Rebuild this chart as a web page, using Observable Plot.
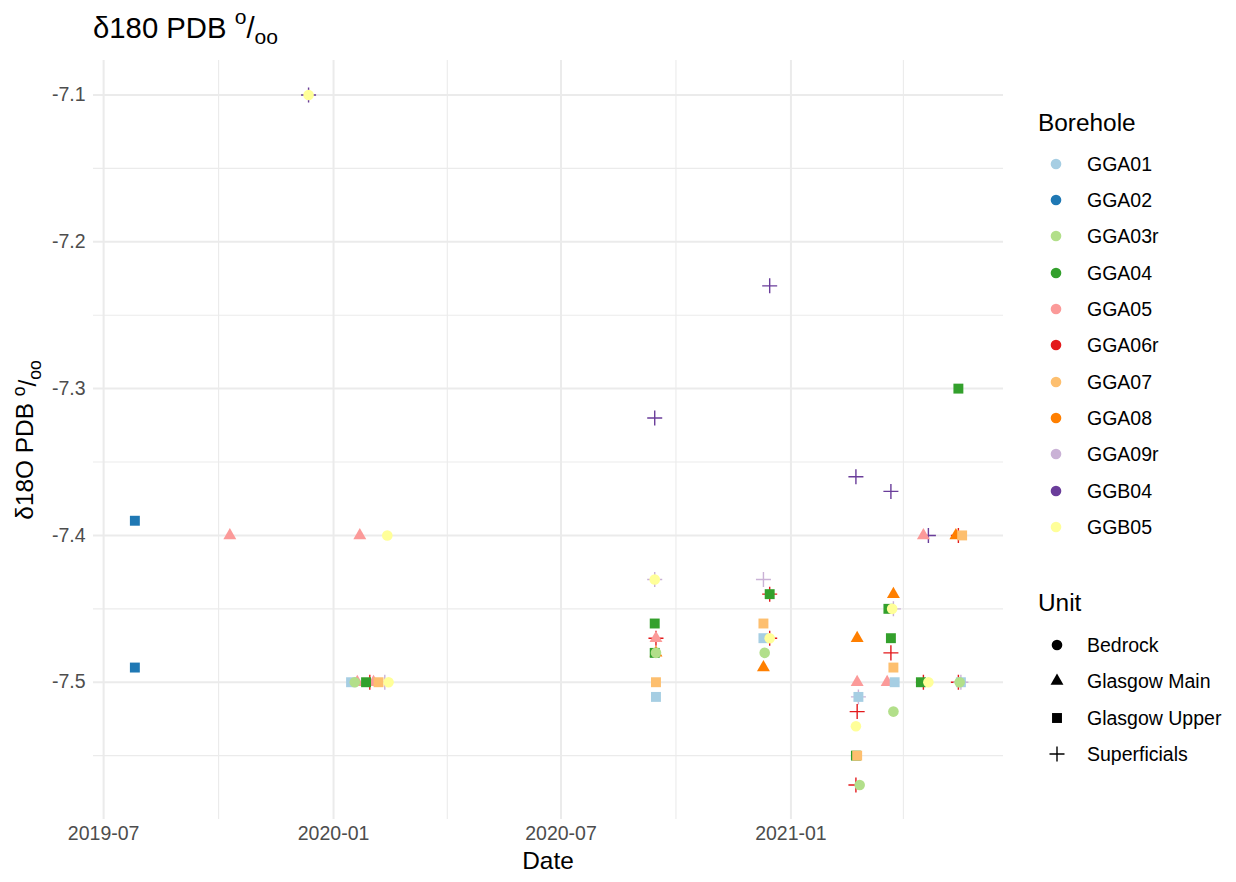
<!DOCTYPE html>
<html>
<head>
<meta charset="utf-8">
<script src="https://cdn.jsdelivr.net/npm/d3@7"></script>
<script src="https://cdn.jsdelivr.net/npm/@observablehq/plot@0.6"></script>
<style>
  html, body { margin: 0; padding: 0; background: #fff; }
  #wrap { position: relative; width: 1236px; height: 882px; font-family: "Liberation Sans", Arial, sans-serif; color: #000; }
  #title { position: absolute; left: 93px; top: 13px; font-size: 29.3px; line-height: 1; white-space: nowrap; }
  .sup { font-size: 0.72em; position: relative; top: -0.66em; }
  .sub { font-size: 0.72em; position: relative; top: 0.3em; }
  #chart { position: absolute; left: 0; top: 60px; }
  .lgtitle { position: absolute; left: 1038px; font-size: 24.4px; line-height: 1; white-space: nowrap; }
  .lglabel { position: absolute; left: 1087px; font-size: 19.5px; line-height: 30px; height: 30px; white-space: nowrap; }
  .lgkey { position: absolute; width: 24px; height: 24px; }
</style>
</head>
<body>
<div id="wrap">
  <div id="title">δ180 PDB <span class="sup">o</span>/<span class="sub">oo</span></div>
  <div id="chart"></div>
</div>
<script>
// ---- categories ----
const boreholes = ["GGA01","GGA02","GGA03r","GGA04","GGA05","GGA06r","GGA07","GGA08","GGA09r","GGB04","GGB05"];
const boreholeColors = ["#A6CEE3","#1F78B4","#B2DF8A","#33A02C","#FB9A99","#E31A1C","#FDBF6F","#FF7F00","#CAB2D6","#6A3D9A","#FFFF99"];
const units = ["Bedrock","Glasgow Main","Glasgow Upper","Superficials"];
const unitSymbols = ["circle","triangle","square","plus"];

// ---- tick labels ----
const xTicks = ["2019-07-01","2020-01-01","2020-07-01","2021-01-01"];
const xMinorTicks = ["2019-10-01","2020-04-01","2020-10-01","2021-04-01"];
const yTicks = [-7.1,-7.2,-7.3,-7.4,-7.5];
const yMinorTicks = [-7.15,-7.25,-7.35,-7.45,-7.55];

// ---- samples (parallel arrays) ----
const sampleDate = [
 "2019-07-26","2019-07-26","2019-10-10","2019-12-12","2019-12-12","2020-01-22","2020-02-13",
 "2020-01-15","2020-01-18","2020-01-20","2020-01-27","2020-01-30","2020-02-02","2020-02-06","2020-02-11","2020-02-14",
 "2020-09-14","2020-09-14","2020-09-14","2020-09-14","2020-09-15","2020-09-15","2020-09-15","2020-09-14","2020-09-15","2020-09-15","2020-09-15",
 "2020-12-15","2020-12-10","2020-12-15","2020-12-15","2020-12-10","2020-12-10","2020-12-15","2020-12-15","2020-12-11","2020-12-10",
 "2021-02-22","2021-02-23","2021-02-23","2021-02-24","2021-02-24","2021-02-23","2021-02-22","2021-02-22","2021-02-23","2021-02-22","2021-02-25",
 "2021-03-22","2021-03-24","2021-03-20","2021-03-24","2021-03-23","2021-03-22","2021-03-22","2021-03-24","2021-03-19","2021-03-25","2021-03-24",
 "2021-04-17","2021-04-21","2021-04-15","2021-04-17","2021-04-21",
 "2021-05-15","2021-05-13","2021-05-15","2021-05-18","2021-05-15","2021-05-16","2021-05-17","2021-05-17"
];
const sampleBorehole = [
 "GGA02","GGA02","GGA05","GGB04","GGB05","GGA05","GGB05",
 "GGA01","GGA03r","GGA05","GGA04","GGA06r","GGA05","GGA07","GGA09r","GGB05",
 "GGB04","GGB05","GGA09r","GGA04","GGA05","GGA06r","GGA08","GGA04","GGA03r","GGA07","GGA01",
 "GGB04","GGA09r","GGA06r","GGA04","GGA07","GGA01","GGA06r","GGB05","GGA03r","GGA08",
 "GGB04","GGA08","GGA05","GGA09r","GGA01","GGA06r","GGB05","GGA04","GGA07","GGA06r","GGA03r",
 "GGB04","GGA08","GGA04","GGA09r","GGB05","GGA04","GGA06r","GGA07","GGA05","GGA01","GGA03r",
 "GGA05","GGB04","GGA04","GGA06r","GGB05",
 "GGA04","GGA08","GGA06r","GGA07","GGA06r","GGA03r","GGA01","GGA09r"
];
const sampleUnit = [
 "Glasgow Upper","Glasgow Upper","Glasgow Main","Superficials","Bedrock","Glasgow Main","Bedrock",
 "Glasgow Upper","Bedrock","Glasgow Main","Glasgow Upper","Superficials","Glasgow Main","Glasgow Upper","Superficials","Bedrock",
 "Superficials","Bedrock","Superficials","Glasgow Upper","Glasgow Main","Superficials","Glasgow Main","Glasgow Upper","Bedrock","Glasgow Upper","Glasgow Upper",
 "Superficials","Superficials","Superficials","Glasgow Upper","Glasgow Upper","Glasgow Upper","Superficials","Bedrock","Bedrock","Glasgow Main",
 "Superficials","Glasgow Main","Glasgow Main","Superficials","Glasgow Upper","Superficials","Bedrock","Glasgow Upper","Glasgow Upper","Superficials","Bedrock",
 "Superficials","Glasgow Main","Glasgow Upper","Superficials","Bedrock","Glasgow Upper","Superficials","Glasgow Upper","Glasgow Main","Glasgow Upper","Bedrock",
 "Glasgow Main","Superficials","Glasgow Upper","Superficials","Bedrock",
 "Glasgow Upper","Glasgow Main","Superficials","Glasgow Upper","Superficials","Bedrock","Glasgow Upper","Superficials"
];
const sampleValue = [
 -7.39,-7.49,-7.40,-7.10,-7.10,-7.40,-7.40,
 -7.50,-7.50,-7.50,-7.50,-7.50,-7.50,-7.50,-7.50,-7.50,
 -7.32,-7.43,-7.43,-7.46,-7.47,-7.47,-7.48,-7.48,-7.48,-7.50,-7.51,
 -7.23,-7.43,-7.44,-7.44,-7.46,-7.47,-7.47,-7.47,-7.48,-7.49,
 -7.36,-7.47,-7.50,-7.51,-7.51,-7.52,-7.53,-7.55,-7.55,-7.57,-7.57,
 -7.37,-7.44,-7.45,-7.45,-7.45,-7.47,-7.48,-7.49,-7.50,-7.50,-7.52,
 -7.40,-7.40,-7.50,-7.50,-7.50,
 -7.30,-7.40,-7.40,-7.40,-7.50,-7.50,-7.50,-7.50
];

const data = sampleDate.map((d, i) => ({
  date: new Date(d + "T00:00:00Z"),
  borehole: sampleBorehole[i],
  unit: sampleUnit[i],
  value: sampleValue[i]
}));

// ggplot-style 5% expansion of the data range
function expand([a, b]) { const p = (b - a) * 0.05; return [a - p, b + p]; }
const xDom = expand(d3.extent(data, d => +d.date)).map(t => new Date(t));
const yDom = expand(d3.extent(data, d => d.value));

const symbolOf = Object.fromEntries(units.map((u, i) => [u, unitSymbols[i]]));
const rOf = {"Bedrock": 5.3, "Glasgow Main": 4.8, "Glasgow Upper": 5.6, "Superficials": 4.9};
const grid = "#EBEBEB";
const drawOrder = ["Superficials", "Glasgow Main", "Glasgow Upper", "Bedrock"];

const dotMarks = drawOrder.map(u => {
  const subset = data.filter(d => d.unit === u);
  if (u === "Superficials") {
    return Plot.dot(subset, {x: "date", y: "value", stroke: "borehole", fill: "none", symbol: symbolOf[u], r: rOf[u], strokeWidth: 1.4});
  }
  return Plot.dot(subset, {x: "date", y: "value", fill: "borehole", stroke: "none", symbol: symbolOf[u], r: rOf[u]});
});

const chart = Plot.plot({
  width: 1010,
  height: 822,
  marginTop: 0,
  marginBottom: 63,
  marginLeft: 93,
  marginRight: 7,
  style: {fontFamily: '"Liberation Sans", Arial, sans-serif', fontSize: "19.5px", color: "#4D4D4D", background: "#fff"},
  x: {type: "utc", domain: xDom},
  y: {domain: yDom},
  color: {domain: boreholes, range: boreholeColors},
  marks: [
    Plot.ruleX(xMinorTicks.map(d => new Date(d + "T00:00:00Z")), {stroke: grid, strokeWidth: 1.1}),
    Plot.ruleY(yMinorTicks, {stroke: grid, strokeWidth: 1.1}),
    Plot.ruleX(xTicks.map(d => new Date(d + "T00:00:00Z")), {stroke: grid, strokeWidth: 2}),
    Plot.ruleY(yTicks, {stroke: grid, strokeWidth: 2}),
    Plot.axisX(xTicks.map(d => new Date(d + "T00:00:00Z")), {tickSize: 0, tickPadding: 7, tickFormat: d3.utcFormat("%Y-%m"), label: null, fill: "#4D4D4D"}),
    Plot.axisY(yTicks, {tickSize: 0, tickPadding: 8, tickFormat: d => d.toFixed(1), label: null, fill: "#4D4D4D"}),
    ...dotMarks
  ]
});
document.getElementById("chart").appendChild(chart);

// axis titles drawn into the svg
const top0 = 60;
const svg = d3.select(chart);
svg.append("text")
  .attr("x", (93 + 1003) / 2).attr("y", 869 - top0)
  .attr("text-anchor", "middle").attr("fill", "#000")
  .style("font-size", "24.4px")
  .text("Date");
const yl = svg.append("text")
  .attr("transform", `translate(33,${440 - top0}) rotate(-90)`)
  .attr("text-anchor", "middle").attr("fill", "#000")
  .style("font-size", "24.4px");
yl.append("tspan").text("δ18O PDB ");
yl.append("tspan").attr("dy", "-0.45em").style("font-size", "17.5px").text("o");
yl.append("tspan").attr("dy", "0.45em").text("/");
yl.append("tspan").attr("dy", "0.3em").style("font-size", "17.5px").text("oo");

// ---- legends ----
const wrap = document.getElementById("wrap");
function addDiv(cls, text, top) {
  const d = document.createElement("div");
  d.className = cls; d.textContent = text;
  d.style.top = top + "px";
  wrap.appendChild(d);
  return d;
}
function addKey(cx, cy, symName, r, color, isStroke) {
  const s = d3.create("svg").attr("class", "lgkey").attr("width", 24).attr("height", 24)
    .style("left", (cx - 12) + "px").style("top", (cy - 12) + "px");
  const sym = {circle: d3.symbolCircle, triangle: d3.symbolTriangle, square: d3.symbolSquare, plus: d3.symbolPlus}[symName];
  const p = s.append("path").attr("transform", "translate(12,12)").attr("d", d3.symbol(sym, r * r * Math.PI)());
  if (isStroke) p.attr("fill", "none").attr("stroke", color).attr("stroke-width", 1.4);
  else p.attr("fill", color);
  wrap.appendChild(s.node());
}
addDiv("lgtitle", "Borehole", 111);
const rowStep = 36.35;
boreholes.forEach((b, i) => {
  const cy = 163.5 + i * rowStep;
  addKey(1056, cy, "circle", 5.3, boreholeColors[i], false);
  addDiv("lglabel", b, cy - 15);
});
addDiv("lgtitle", "Unit", 591);
units.forEach((u, i) => {
  const cy = 645 + i * rowStep;
  addKey(1056.5, cy, unitSymbols[i], rOf[u], "#000", unitSymbols[i] === "plus");
  addDiv("lglabel", u, cy - 15);
});
</script>
</body>
</html>
